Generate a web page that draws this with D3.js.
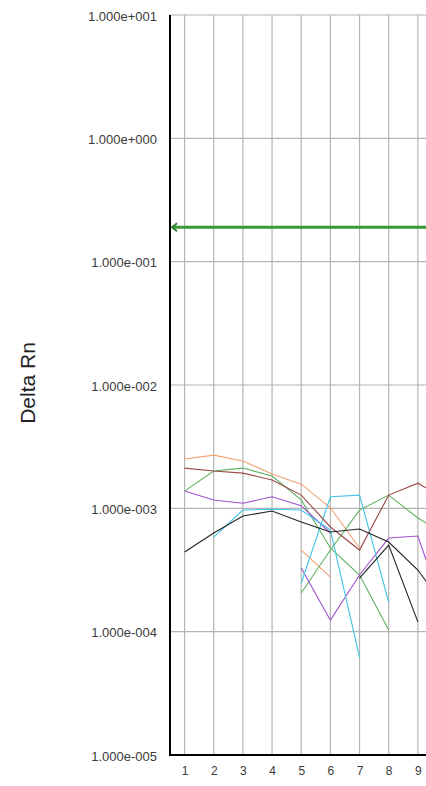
<!DOCTYPE html>
<html><head><meta charset="utf-8">
<script src="https://cdn.jsdelivr.net/npm/d3@7"></script>
<style>html,body{margin:0;padding:0;background:#fff;overflow:hidden}</style>
</head><body>
<svg id="chart" width="426" height="786"></svg>
<script>
const cycles = [1,2,3,4,5,6,7,8,9,10];
const xTicks = [1,2,3,4,5,6,7,8,9];
const yTicks = [1e-5,1e-4,1e-3,1e-2,1e-1,1,10];
const yTickLabels = ["1.000e-005","1.000e-004","1.000e-003","1.000e-002","1.000e-001","1.000e+000","1.000e+001"];
const threshold = 0.19;
const yTitle = "Delta Rn";

const orangeA = [0.00251,0.00270,0.00242,0.00190,0.00157,0.00101,0.000477,null,null,null];
const orangeB = [null,null,null,null,0.000459,0.000277,null,null,null,null];
const brown   = [0.00212,0.00201,0.00193,0.00170,0.00128,0.000706,0.000459,0.00128,0.00160,0.00117];
const green1  = [0.00138,0.00201,0.00212,0.00183,0.00117,0.000477,0.000288,0.000103,null,null];
const green2  = [null,null,null,null,0.000206,0.000459,0.000968,0.00128,0.000834,0.000608];
const purple1 = [0.00138,0.00117,0.00110,0.00124,0.00105,0.000631,null,null,null,null];
const purple2 = [null,null,null,null,0.000328,0.000124,0.000288,0.000574,0.000596,0.000124];
const cyan1   = [null,0.000585,0.000968,0.000984,0.000968,0.000667,0.000062,null,null,null];
const cyan2   = [null,null,null,null,0.000248,0.00124,0.00128,0.000174,null,null];
const black1  = [0.000443,0.000631,0.000867,0.000951,0.000774,0.000643,0.000680,0.000533,0.000316,0.000150];
const black2  = [null,null,null,null,null,null,0.000272,0.000504,0.000120,null];

const series = [
  {values: orangeA, color: "#f2a070"},
  {values: orangeB, color: "#f2a070"},
  {values: green1, color: "#60b060"},
  {values: green2, color: "#60b060"},
  {values: purple1, color: "#a050d0"},
  {values: purple2, color: "#a050d0"},
  {values: cyan1, color: "#40c4e8"},
  {values: cyan2, color: "#40c4e8"},
  {values: brown, color: "#9a4848"},
  {values: black1, color: "#222222"},
  {values: black2, color: "#222222"}
];

const svg = d3.select("#chart");
const mLeft = 170, mTop = 15, mBottom = 755, step = 29.16;
const x = d3.scaleLinear().domain([0.5, 1.5]).range([mLeft, mLeft + step]);
const y = d3.scaleLog().domain([1e-5, 10]).range([mBottom, mTop]);

// gridlines
const grid = svg.append("g");
grid.selectAll("line.v").data(xTicks).enter().append("line")
  .attr("x1", d => x(d)).attr("x2", d => x(d))
  .attr("y1", mTop).attr("y2", mBottom)
  .attr("stroke", "#b4b4b4").attr("stroke-width", 1.2);
grid.selectAll("line.h").data(yTicks).enter().append("line")
  .attr("x1", mLeft).attr("x2", 426)
  .attr("y1", d => y(d)).attr("y2", d => y(d))
  .attr("stroke", "#b4b4b4").attr("stroke-width", 1.2);

// axes
const yAxis = d3.axisLeft(y).tickValues(yTicks)
  .tickFormat((d, i) => yTickLabels[i]).tickSize(0).tickPadding(13);
const gy = svg.append("g").attr("transform", `translate(${mLeft},1)`).call(yAxis);
gy.select(".domain").remove();
gy.selectAll("text").attr("font-family", "Arial, Liberation Sans, sans-serif")
  .attr("font-size", 13).attr("fill", "#3a3a3a");

const xAxis = d3.axisBottom(x).tickValues(xTicks).tickFormat(d3.format("d")).tickSize(0).tickPadding(11);
const gx = svg.append("g").attr("transform", `translate(0,${mBottom})`).call(xAxis);
gx.select(".domain").remove();
gx.selectAll("text").attr("font-family", "Arial, Liberation Sans, sans-serif")
  .attr("font-size", 12).attr("fill", "#3a3a3a");

// data lines
const line = d3.line()
  .defined(d => d.v != null)
  .x(d => x(d.c)).y(d => y(d.v));
svg.append("g").selectAll("path").data(series).enter().append("path")
  .attr("d", s => line(cycles.map((c, i) => ({c, v: s.values[i]}))))
  .attr("fill", "none").attr("stroke", s => s.color).attr("stroke-width", 1.1);

// axis lines
svg.append("line").attr("x1", mLeft).attr("x2", mLeft).attr("y1", mTop).attr("y2", mBottom + 1)
  .attr("stroke", "#000").attr("stroke-width", 2);
svg.append("line").attr("x1", mLeft).attr("x2", 426).attr("y1", mBottom).attr("y2", mBottom)
  .attr("stroke", "#000").attr("stroke-width", 2);

// threshold
const ty = y(threshold);
svg.append("line").attr("x1", mLeft + 2).attr("x2", 426).attr("y1", ty).attr("y2", ty)
  .attr("stroke", "#3a9a3a").attr("stroke-width", 3);
svg.append("path")
  .attr("d", `M${mLeft + 7},${ty - 4} L${mLeft + 2},${ty} L${mLeft + 7},${ty + 4}`)
  .attr("fill", "none").attr("stroke", "#2e7d2e").attr("stroke-width", 1.8);

// y title
svg.append("text")
  .attr("transform", `translate(35,383) rotate(-90)`)
  .attr("text-anchor", "middle")
  .attr("font-family", "Arial, Liberation Sans, sans-serif")
  .attr("font-size", 21).attr("fill", "#222")
  .text(yTitle);
</script>
</body></html>
